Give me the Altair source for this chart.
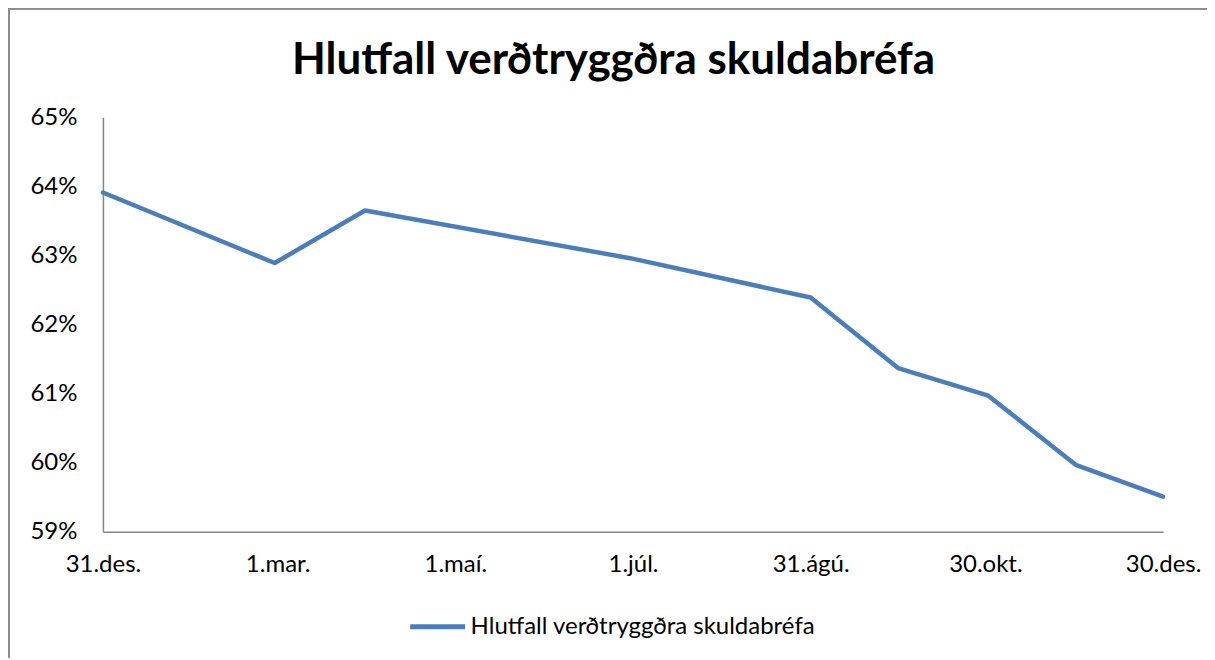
import altair as alt
import pandas as pd

dates = ["2012-12-31", "2013-02-28", "2013-03-31", "2013-06-30", "2013-08-31",
         "2013-09-30", "2013-10-31", "2013-11-30", "2013-12-30"]
values = [63.91, 62.89, 63.65, 62.96, 62.39, 61.37, 60.97, 59.97, 59.51]
series = "Hlutfall verðtryggðra skuldabréfa"
title = "Hlutfall verðtryggðra skuldabréfa"
tick_dates = [(2012, 12, 31), (2013, 3, 1), (2013, 5, 1), (2013, 7, 1),
              (2013, 8, 31), (2013, 10, 30), (2013, 12, 30)]
month_names = ["jan", "feb", "mar", "apr", "maí", "jún", "júl", "ágú", "sep", "okt", "nóv", "des"]

df = pd.DataFrame({"date": dates, "value": [v / 100 for v in values], "series": series})
title_df = pd.DataFrame({"text": [title]})

W, H = 1061, 415
PL, PT, PR, PB = 95, 109, 44, 126
FONT = "Lato"
FS = 24

months_expr = "[" + ",".join(f"'{m}'" for m in month_names) + "]"

line = alt.Chart(df).mark_line(strokeWidth=4.5, strokeCap="round", strokeJoin="round").encode(
    x=alt.X("date:T",
            scale=alt.Scale(type="utc", domain=[alt.DateTime(year=2012, month=12, date=31, utc=True),
                                                alt.DateTime(year=2013, month=12, date=30, utc=True)]),
            axis=alt.Axis(title=None,
                          values=[alt.DateTime(year=y, month=m, date=d, utc=True) for y, m, d in tick_dates],
                          labelExpr=f"utcdate(datum.value) + '.' + {months_expr}[utcmonth(datum.value)] + '.'",
                          grid=False, ticks=False, labelPadding=21, labelFontSize=FS,
                          labelColor="#000000", labelFont=FONT, domainColor="#868686", domainWidth=1.5,
                          labelOverlap=False, labelFlush=False)),
    y=alt.Y("value:Q",
            scale=alt.Scale(domain=[0.59, 0.65], nice=False, zero=False),
            axis=alt.Axis(title=None, format=".0%", values=[0.59, 0.60, 0.61, 0.62, 0.63, 0.64, 0.65],
                          grid=False, ticks=False, labelPadding=26, labelFontSize=FS,
                          labelColor="#000000", labelFont=FONT, domainColor="#868686", domainWidth=1.5)),
    color=alt.Color("series:N", scale=alt.Scale(range=["#4a7ebb"]),
                    legend=alt.Legend(title=None, orient="none", legendX=305, legendY=480,
                                      symbolType="stroke", symbolSize=3025, symbolStrokeWidth=5,
                                      labelFontSize=FS, labelFont=FONT, labelColor="#000000",
                                      labelLimit=0, padding=0, labelOffset=3)),
)

border = alt.Chart(df).mark_rect(filled=False, stroke="#8c8c8c", strokeWidth=2).encode(
    x=alt.value(-PL + 0.5), x2=alt.value(W + PR + 50),
    y=alt.value(-PT), y2=alt.value(H + PB + 50),
)

title_mark = alt.Chart(title_df).mark_text(
    font=FONT, fontSize=44, fontWeight="bold", color="#000000",
    align="center", baseline="alphabetic",
).encode(text="text:N", x=alt.value(511), y=alt.value(-43))

chart = alt.layer(border, line, title_mark).properties(
    width=W, height=H,
    autosize=alt.AutoSizeParams(type="none"),
    padding={"left": PL, "top": PT, "right": PR, "bottom": PB},
).configure_view(stroke=None)

chart.save("out.html", embed_options={"renderer": "svg", "actions": False})
